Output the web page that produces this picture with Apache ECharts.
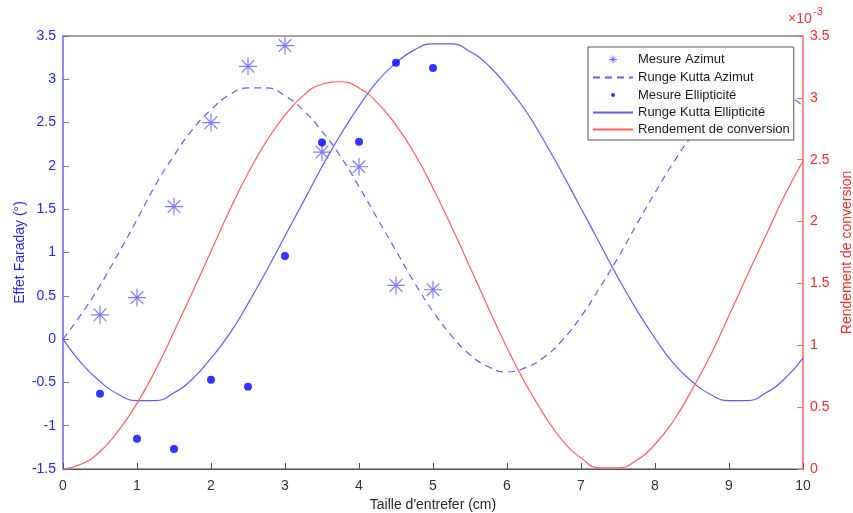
<!DOCTYPE html>
<html>
<head>
<meta charset="utf-8">
<script src="https://cdn.jsdelivr.net/npm/echarts@6/dist/echarts.min.js"></script>
<style>html,body{margin:0;padding:0;background:#fff}#c{width:853px;height:513px}</style>
</head>
<body>
<div id="c"></div>
<script>
// ---- data ----
const xs = [0,0.25,0.5,0.75,1,1.25,1.5,1.75,2,2.25,2.5,2.75,3,3.25,3.5,3.75,4,4.25,4.5,4.75,5,5.25,5.5,5.75,6,6.25,6.5,6.75,7,7.25,7.5,7.75,8,8.25,8.5,8.75,9,9.25,9.5,9.75,10];
const rkAzimut = [0,0.29,0.62,0.99,1.38,1.78,2.12,2.42,2.65,2.82,2.90,2.90,2.81,2.64,2.40,2.11,1.76,1.39,1.02,0.65,0.32,0.04,-0.18,-0.32,-0.38,-0.33,-0.21,-0.01,0.26,0.59,0.94,1.32,1.69,2.04,2.35,2.60,2.78,2.89,2.91,2.84,2.69];
const rkEllip = [0,-0.28,-0.49,-0.64,-0.71,-0.71,-0.62,-0.46,-0.22,0.06,0.41,0.79,1.19,1.59,1.99,2.36,2.69,2.98,3.19,3.34,3.41,3.41,3.32,3.16,2.92,2.64,2.29,1.91,1.51,1.11,0.71,0.34,0.01,-0.28,-0.49,-0.64,-0.71,-0.71,-0.62,-0.46,-0.22];
const rendement = [0,0.04,0.14,0.31,0.53,0.80,1.11,1.43,1.76,2.09,2.39,2.65,2.86,3.02,3.11,3.13,3.08,2.96,2.78,2.55,2.27,1.96,1.63,1.30,0.98,0.69,0.44,0.23,0.09,0.01,0.01,0.07,0.20,0.39,0.64,0.92,1.24,1.57,1.89,2.21,2.49]; // x 1e-3
const measX = [0.5,1,1.5,2,2.5,3,3.5,4,4.5,5];
const measAzimut = [0.28,0.48,1.53,2.50,3.15,3.39,2.16,1.99,0.62,0.57];
const measEllip = [-0.63,-1.15,-1.27,-0.47,-0.55,0.96,2.27,2.28,3.19,3.13];
const xTicks = [0,1,2,3,4,5,6,7,8,9,10];
const leftTicks = [-1.5,-1,-0.5,0,0.5,1,1.5,2,2.5,3,3.5];
const rightTicks = [0,0.5,1,1.5,2,2.5,3,3.5];
const names = ['Mesure Azimut','Runge Kutta Azimut','Mesure Ellipticité','Runge Kutta Ellipticité','Rendement de conversion'];

const FONT = '"Liberation Sans", Arial, Helvetica, sans-serif';
const zip = (a, b) => a.map((v, i) => [v, b[i]]);
const STAR = 'path://M10,0 L10,20 M0,10 L20,10 M3,3 L17,17 M3,17 L17,3';
const STAR_LEG = 'path://M0,0 M30,30 M15,6.5 L15,23.5 M6.5,15 L23.5,15 M9,9 L21,21 M9,21 L21,9';
const DOT_LEG = 'path://M0,0 M30,30 M10.7,15 A4.3,4.3 0 1,1 19.3,15 A4.3,4.3 0 1,1 10.7,15 Z';
const BLUE_LINE = '#5c5cff', RED_LINE = '#ff5c5c';

const chart = echarts.init(document.getElementById('c'), null, {renderer: 'canvas'});
chart.setOption({
  animation: false,
  backgroundColor: '#fff',
  grid: {left: 63, right: 50, top: 36, bottom: 44, show: true, borderColor: '#444', borderWidth: 1,
         backgroundColor: 'transparent', outerBoundsMode: 'none', containLabel: false},
  legend: {
    orient: 'vertical', left: 588, top: 47,
    backgroundColor: '#fff', borderColor: '#555', borderWidth: 1,
    padding: [5, 4, 4, 4], itemWidth: 40, itemHeight: 14, itemGap: 4,
    textStyle: {fontSize: 13, color: '#1a1a1a', fontFamily: FONT},
    data: [
      {name: names[0], icon: STAR_LEG, itemStyle: {color: 'transparent', borderColor: '#4a4aff', borderWidth: 1}},
      {name: names[1], itemStyle: {opacity: 0}},
      {name: names[2], icon: DOT_LEG, itemStyle: {color: '#0000ff', borderWidth: 0}},
      {name: names[3], itemStyle: {opacity: 0}},
      {name: names[4], itemStyle: {opacity: 0}}
    ]
  },
  xAxis: {
    type: 'value', min: xTicks[0], max: xTicks[xTicks.length - 1], interval: 1,
    name: "Taille d'entrefer (cm)", nameLocation: 'middle', nameGap: 26,
    nameTextStyle: {fontSize: 14, color: '#262626', fontFamily: FONT},
    axisLine: {onZero: false, lineStyle: {color: '#555', width: 1}},
    axisTick: {inside: true, length: 6, lineStyle: {color: '#555'}},
    axisLabel: {fontSize: 14, color: '#333', margin: 10, fontFamily: FONT},
    splitLine: {show: false}
  },
  yAxis: [{
    type: 'value', min: leftTicks[0], max: leftTicks[leftTicks.length - 1], interval: 0.5,
    name: 'Effet Faraday (°)', nameLocation: 'middle', nameGap: 36, nameMoveOverlap: false,
    nameTextStyle: {fontSize: 14, color: '#1f1fff', fontFamily: FONT},
    axisLine: {show: true, lineStyle: {color: '#8a8aff', width: 2}},
    axisTick: {show: true, inside: true, length: 6, lineStyle: {color: '#6a6aff'}},
    axisLabel: {fontSize: 14, color: '#2424ff', margin: 7, fontFamily: FONT},
    splitLine: {show: false}
  }, {
    type: 'value', position: 'right', min: rightTicks[0], max: rightTicks[rightTicks.length - 1], interval: 0.5,
    name: 'Rendement de conversion', nameLocation: 'middle', nameGap: 35,
    nameTextStyle: {fontSize: 14, color: '#ff2424', fontFamily: FONT},
    axisLine: {show: true, lineStyle: {color: '#ff8a8a', width: 2}},
    axisTick: {show: true, inside: true, length: 6, lineStyle: {color: '#ff6a6a'}},
    axisLabel: {fontSize: 14, color: '#ff2424', margin: 7, fontFamily: FONT},
    splitLine: {show: false}
  }],
  graphic: [
    {type: 'text', left: 788, top: 12, style: {text: '×10', fontSize: 14, fill: '#ff3030', fontFamily: FONT}},
    {type: 'text', left: 813, top: 6, style: {text: '-3', fontSize: 11, fill: '#ff3030', fontFamily: FONT}}
  ],
  series: [
    {
      name: names[0], type: 'scatter', yAxisIndex: 0, data: zip(measX, measAzimut),
      symbol: STAR, symbolSize: 18,
      itemStyle: {color: 'transparent', borderColor: '#5a5aff', borderWidth: 1.2}, z: 5
    },
    {
      name: names[1], type: 'line', yAxisIndex: 0, data: zip(xs, rkAzimut), smooth: true,
      symbol: 'none', lineStyle: {color: BLUE_LINE, width: 1.2, type: [7, 5]}, itemStyle: {color: BLUE_LINE}
    },
    {
      name: names[2], type: 'scatter', yAxisIndex: 0, data: zip(measX, measEllip),
      symbol: 'circle', symbolSize: 8, itemStyle: {color: '#0000ff'}, z: 6
    },
    {
      name: names[3], type: 'line', yAxisIndex: 0, data: zip(xs, rkEllip), smooth: true,
      symbol: 'none', lineStyle: {color: BLUE_LINE, width: 1.2}, itemStyle: {color: BLUE_LINE}
    },
    {
      name: names[4], type: 'line', yAxisIndex: 1, data: zip(xs, rendement), smooth: true,
      symbol: 'none', lineStyle: {color: RED_LINE, width: 1.2}, itemStyle: {color: RED_LINE}
    }
  ]
});
</script>
</body>
</html>
